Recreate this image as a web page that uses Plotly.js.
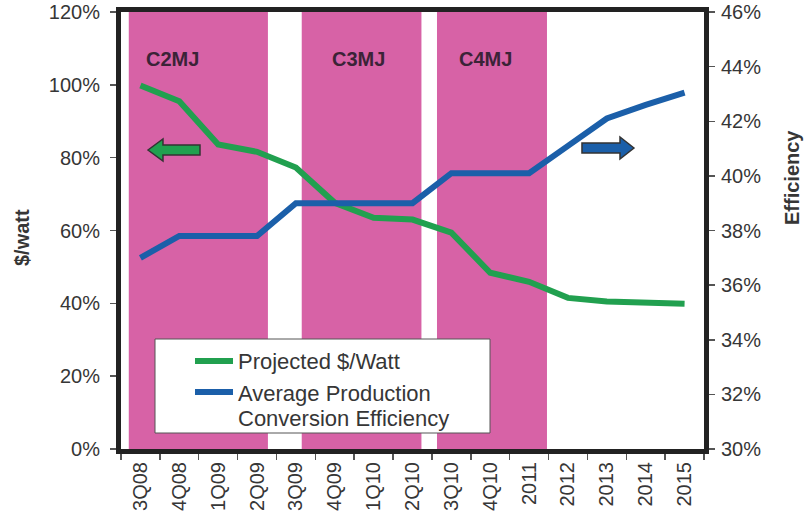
<!DOCTYPE html>
<html>
<head>
<meta charset="utf-8">
<script src="https://cdn.plot.ly/plotly-3.0.1.min.js"></script>
<style>
  html, body { margin: 0; padding: 0; background: #ffffff; }
  #chart { width: 804px; height: 512px; }
</style>
</head>
<body>
<div id="chart"></div>
<script>
// ---- Data ----
var categories = ["3Q08","4Q08","1Q09","2Q09","3Q09","4Q09","1Q10","2Q10","3Q10","4Q10","2011","2012","2013","2014","2015"];
var dollarPerWatt = [99.8, 95.5, 83.6, 81.6, 77.3, 67.6, 63.5, 63.0, 59.4, 48.4, 45.9, 41.5, 40.5, 40.2, 39.9];
var efficiency = [37.0, 37.8, 37.8, 37.8, 39.0, 39.0, 39.0, 39.0, 40.1, 40.1, 40.1, 41.1, 42.1, 42.6, 43.05];
var leftTicks = [0, 20, 40, 60, 80, 100, 120];
var rightTicks = [30, 32, 34, 36, 38, 40, 42, 44, 46];
var generationLabels = ["C2MJ", "C3MJ", "C4MJ"];
var generationStart = [-0.3, 4.15, 7.63];
var generationEnd = [3.28, 7.23, 10.46];
var seriesNames = ["Projected $/Watt", "Average Production", "Conversion Efficiency"];

// ---- Styling helpers ----
var FONT = "Liberation Sans, Arial, Helvetica, sans-serif";
var TXT = "#363636";
var GREEN = "#21a04f";
var BLUE = "#1b5fa9";
var PINK = "#d762a6";
var L = 121, R = 100, T = 12, B = 63, W = 804, H = 512;
var PW = W - L - R, PH = H - T - B;
function px(x) { return (x - L) / PW; }
function py(y) { return (H - B - y) / PH; }
function path(pts) {
  return "M " + pts.map(function (p) { return px(p[0]).toFixed(4) + "," + py(p[1]).toFixed(4); }).join(" L ") + " Z";
}

var traces = [
  {
    x: categories, y: dollarPerWatt, type: "scatter", mode: "lines",
    name: seriesNames[0], line: { color: GREEN, width: 6 }, xaxis: "x", yaxis: "y",
    showlegend: false
  },
  {
    x: categories, y: efficiency, type: "scatter", mode: "lines",
    name: seriesNames[1] + " " + seriesNames[2], line: { color: BLUE, width: 6 }, xaxis: "x", yaxis: "y2",
    showlegend: false
  }
];

var shapes = [];
for (var i = 0; i < generationLabels.length; i++) {
  shapes.push({
    type: "rect", xref: "x", yref: "paper", x0: generationStart[i], x1: generationEnd[i], y0: 0, y1: 1,
    fillcolor: PINK, line: { width: 0 }, layer: "below"
  });
}
// direction arrows
shapes.push({
  type: "path", xref: "paper", yref: "paper", layer: "above",
  path: path([[148,150],[163,139],[163,145],[200,145],[200,155],[163,155],[163,161]]),
  fillcolor: GREEN, line: { color: "#333333", width: 1.5 }
});
shapes.push({
  type: "path", xref: "paper", yref: "paper", layer: "above",
  path: path([[634,148],[620,137],[620,143],[582,143],[582,153],[620,153],[620,159]]),
  fillcolor: BLUE, line: { color: "#333333", width: 1.5 }
});
// legend box
shapes.push({
  type: "rect", xref: "paper", yref: "paper", layer: "above",
  x0: px(155), x1: px(490), y0: py(433), y1: py(339),
  fillcolor: "#ffffff", line: { color: "#555555", width: 1 }
});
shapes.push({
  type: "line", xref: "paper", yref: "paper", layer: "above",
  x0: px(195), x1: px(233), y0: py(361), y1: py(361), line: { color: GREEN, width: 6 }
});
shapes.push({
  type: "line", xref: "paper", yref: "paper", layer: "above",
  x0: px(195), x1: px(233), y0: py(392), y1: py(392), line: { color: BLUE, width: 6 }
});

var annotations = [];
var genLabelX = [172, 358, 485];
for (var j = 0; j < generationLabels.length; j++) {
  annotations.push({
    xref: "paper", yref: "paper", x: px(genLabelX[j]), y: py(59), xanchor: "center", yanchor: "middle",
    text: "<b>" + generationLabels[j] + "</b>", showarrow: false,
    font: { family: FONT, size: 20, color: "#3b2337" }
  });
}
// legend texts
annotations.push({
  xref: "paper", yref: "paper", x: px(236), y: py(361), xanchor: "left", yanchor: "middle",
  text: seriesNames[0], showarrow: false, font: { family: FONT, size: 22, color: TXT }
});
annotations.push({
  xref: "paper", yref: "paper", x: px(236), y: py(393), xanchor: "left", yanchor: "middle",
  text: seriesNames[1], showarrow: false, font: { family: FONT, size: 22, color: TXT }
});
annotations.push({
  xref: "paper", yref: "paper", x: px(236), y: py(418), xanchor: "left", yanchor: "middle",
  text: seriesNames[2], showarrow: false, font: { family: FONT, size: 22, color: TXT }
});
// axis titles
annotations.push({
  xref: "paper", yref: "paper", x: px(22), y: py(238), xanchor: "center", yanchor: "middle",
  text: "<b>$/watt</b>", textangle: -90, showarrow: false, font: { family: FONT, size: 20, color: TXT }
});
annotations.push({
  xref: "paper", yref: "paper", x: px(792), y: py(178), xanchor: "center", yanchor: "middle",
  text: "<b>Efficiency</b>", textangle: -90, showarrow: false, font: { family: FONT, size: 20, color: TXT }
});

var layout = {
  width: W, height: H,
  margin: { l: L, r: R, t: T, b: B, pad: 0 },
  paper_bgcolor: "#ffffff", plot_bgcolor: "#ffffff",
  font: { family: FONT, size: 20, color: TXT },
  showlegend: false,
  xaxis: {
    type: "category", categoryarray: categories, range: [-0.5, categories.length - 0.5],
    showline: true, linewidth: 5, linecolor: "#222222", mirror: true,
    showgrid: false, zeroline: false,
    ticks: "outside", tickson: "boundaries", ticklen: 6, tickwidth: 1.5, tickcolor: "#555555",
    tickangle: -90, tickfont: { family: FONT, size: 20, color: TXT }, automargin: false
  },
  yaxis: {
    range: [0, 120], tickvals: leftTicks, ticktext: leftTicks.map(function (v) { return v + "%"; }),
    showline: true, linewidth: 5, linecolor: "#222222", showgrid: false, zeroline: false,
    ticks: "outside", ticklen: 6, tickwidth: 1.5, tickcolor: "#555555",
    tickfont: { family: FONT, size: 20, color: TXT }, automargin: false, ticklabelstandoff: 6
  },
  yaxis2: {
    range: [30, 46], tickvals: rightTicks, ticktext: rightTicks.map(function (v) { return v + "%"; }),
    overlaying: "y", side: "right", anchor: "x",
    showline: true, linewidth: 5, linecolor: "#222222", showgrid: false, zeroline: false,
    ticks: "outside", ticklen: 6, tickwidth: 1.5, tickcolor: "#555555",
    tickfont: { family: FONT, size: 20, color: TXT }, automargin: false, ticklabelstandoff: 2
  },
  shapes: shapes,
  annotations: annotations
};

Plotly.newPlot("chart", traces, layout, { displayModeBar: false, staticPlot: true });
</script>
</body>
</html>
